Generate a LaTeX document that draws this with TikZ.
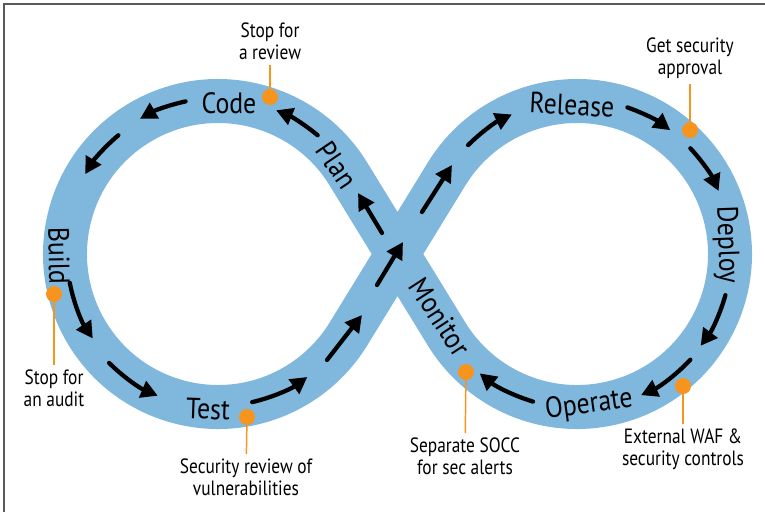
\documentclass[tikz,border=0pt]{standalone}
\usepackage{fontspec}
\setmainfont{PT Sans}
\newfontfamily\loopfont{PT Sans}[FakeStretch=0.88]
\newfontfamily\notefont{PT Sans}[FakeStretch=0.84]
\usetikzlibrary{arrows.meta,calc}
\definecolor{loopblue}{RGB}{128,183,220}
\definecolor{gateorange}{RGB}{247,148,30}
\definecolor{framegray}{RGB}{90,90,90}
\tikzset{
  band/.style={draw=loopblue, line width=33pt},
  flow/.style={line width=3.2pt, line cap=round, -{Triangle[length=12.5pt,width=13pt]}},
  stage/.style={inner sep=0.75pt, font=\loopfont\fontsize{22}{24}\selectfont},
  gate/.style={circle, fill=gateorange, inner sep=0pt, minimum size=12pt},
  note/.style={inner sep=0.75pt, align=center, font=\notefont\fontsize{15.5}{16.5}\selectfont},
  leader/.style={draw=gateorange, line width=1.1pt, shorten >=3pt},
}
\begin{document}
\begin{tikzpicture}[x=0.75pt,y=0.75pt,yscale=-1,xscale=1]
	\useasboundingbox (0,0) rectangle (765,512);
	\draw [framegray, line width=0.9pt] (765,4) -- (4,4) -- (4,512) ;
	% centres of the two loops and the crossing
	\coordinate (L) at (218,254);
	\coordinate (R) at (577,254);
	\coordinate (X) at (397.5,254);
	% the band
	\draw [band] (X) -- ([shift={(-31.5:153)}]L) arc [start angle=-31.5, end angle=-328.5, radius=153] -- (X) -- ([shift={(211.5:153)}]R) arc [start angle=211.5, end angle=508.5, radius=153] -- cycle ;
	% arrows, left loop
	\draw [flow] (382,233) -- (358,193) ;
	\draw [flow] ([shift={(-50:155)}]L) arc [start angle=-50, end angle=-68, radius=155] ;
	\draw [flow] ([shift={(-102:156)}]L) arc [start angle=-102, end angle=-120, radius=156] ;
	\draw [flow] ([shift={(-130:155)}]L) arc [start angle=-130, end angle=-149, radius=155] ;
	\draw [flow] ([shift={(169:151)}]L) arc [start angle=169, end angle=146, radius=151] ;
	\draw [flow] ([shift={(135:154)}]L) arc [start angle=135, end angle=113, radius=154] ;
	\draw [flow] ([shift={(77:152)}]L) arc [start angle=77, end angle=54, radius=152] ;
	\draw [flow] (327,360) -- (362,315) ;
	% arrows, right loop
	\draw [flow] (377,285) -- (403,242) ;
	\draw [flow] (422,212) -- (452,165) ;
	\draw [flow] ([shift={(-135:154)}]R) arc [start angle=-135, end angle=-115, radius=154] ;
	\draw [flow] ([shift={(-71:155)}]R) arc [start angle=-71, end angle=-53, radius=155] ;
	\draw [flow] ([shift={(-43:155)}]R) arc [start angle=-43, end angle=-24, radius=155] ;
	\draw [flow] ([shift={(15.5:154)}]R) arc [start angle=15.5, end angle=36.6, radius=154] ;
	\draw [flow] ([shift={(43:155)}]R) arc [start angle=43, end angle=65.6, radius=155] ;
	\draw [flow] ([shift={(106.6:154)}]R) arc [start angle=106.6, end angle=129.2, radius=154] ;
	% stage names
	\node [stage] (code) at (229,103) {Code};
	\node [stage, rotate=-56] (plan) at (337,165) {Plan};
	\node [stage, rotate=-89] (build) at (59,256) {Build};
	\node [stage, rotate=-2] (test) at (208,409) {Test};
	\node [stage, rotate=-3] (release) at (572,105) {Release};
	\node [stage, rotate=-88] (deploy) at (726,245) {Deploy};
	\node [stage, rotate=8] (operate) at (589,405) {Operate};
	\node [stage, rotate=-57] (monitor) at (440,317) {Monitor};
	% security gates
	\node [gate] (gcode) at (270,97) {};
	\node [gate] (grelease) at (690,130) {};
	\node [gate] (gbuild) at (54,294) {};
	\node [gate] (gtest) at (247,417) {};
	\node [gate] (gmonitor) at (466,372) {};
	\node [gate] (goperate) at (683,386) {};
	\node [note, anchor=south] (ncode) at (270,61) {Stop for\\a review};
	\node [note, anchor=south] (nrelease) at (690,80) {Get security\\approval};
	\node [note, anchor=north] (nbuild) at (54,369) {Stop for\\an audit};
	\node [note, anchor=north] (ntest) at (246,458) {Security review of\\vulnerabilities};
	\node [note, anchor=north] (nmonitor) at (465,437) {Separate SOCC\\for sec alerts};
	\node [note, anchor=north] (noperate) at (683,428) {External WAF \&\\security controls};
	\draw [leader] (gcode) -- (ncode) ;
	\draw [leader] (grelease) -- (nrelease) ;
	\draw [leader] (gbuild) -- (nbuild) ;
	\draw [leader] (gtest) -- (ntest) ;
	\draw [leader] (gmonitor) -- (nmonitor) ;
	\draw [leader] (goperate) -- (noperate) ;
\end{tikzpicture}
\end{document}
